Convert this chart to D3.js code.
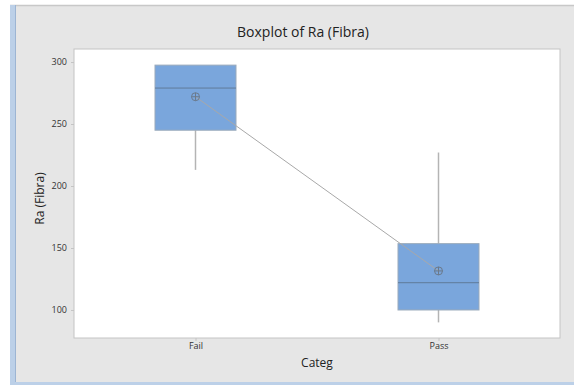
<!DOCTYPE html>
<html>
<head>
<meta charset="utf-8">
<script src="https://cdn.jsdelivr.net/npm/d3@7"></script>
<style>
  html, body { margin: 0; padding: 0; background: #ffffff; }
  svg { display: block; }
</style>
</head>
<body>
<svg id="chart" width="574" height="387"></svg>
<script>
// Box summaries of Ra (Fibra) by Categ
const categories = ["Fail", "Pass"];
const whiskerLow = [213, 90];
const q1 = [245, 100];
const median = [279, 122];
const q3 = [297.5, 153.5];
const whiskerHigh = [297.5, 227];
const means = [272, 131.5];
const yTicks = [100, 150, 200, 250, 300];

const W = 574, H = 387;
const plot = { left: 74, right: 560, top: 49, bottom: 338 };
const svg = d3.select("#chart");

// window frame
svg.append("rect").attr("x", 0).attr("y", 0).attr("width", W).attr("height", H).attr("fill", "#ffffff");
svg.append("rect").attr("x", 10).attr("y", 5).attr("width", W - 10).attr("height", 379).attr("fill", "#e6e6e6");
svg.append("line").attr("x1", 10).attr("x2", W).attr("y1", 5.5).attr("y2", 5.5).attr("stroke", "#c8c8c8").attr("stroke-width", 1.5);
svg.append("rect").attr("x", 10).attr("y", 5).attr("width", 6).attr("height", 379).attr("fill", "#bcd0e8");
svg.append("line").attr("x1", 15.5).attr("x2", 15.5).attr("y1", 5).attr("y2", 384).attr("stroke", "#9db5d3").attr("stroke-width", 1);
svg.append("rect").attr("x", 10).attr("y", 382).attr("width", W - 10).attr("height", 3).attr("fill", "#bcd0e8");

const x = d3.scalePoint().domain(categories).range([plot.left, plot.right]).padding(0.5);
const y = d3.scaleLinear().domain([77.4, 310.5]).range([plot.bottom, plot.top]);
const boxW = 81;

// plot area
svg.append("rect")
  .attr("x", plot.left).attr("y", plot.top)
  .attr("width", plot.right - plot.left).attr("height", plot.bottom - plot.top)
  .attr("fill", "#ffffff").attr("stroke", "#c4c4c4").attr("stroke-width", 1);

// axes
const yAxis = d3.axisLeft(y).tickValues(yTicks).tickSize(3).tickPadding(4);
const gy = svg.append("g").attr("transform", `translate(${plot.left},0)`).call(yAxis);
gy.select(".domain").remove();
gy.selectAll(".tick line").attr("stroke", "#c4c4c4");
gy.selectAll(".tick text").attr("fill", "#333").style("font-family", "Open Sans, sans-serif").style("font-size", "9px");

const xAxis = d3.axisBottom(x).tickSize(3).tickPadding(2);
const gx = svg.append("g").attr("transform", `translate(0,${plot.bottom})`).call(xAxis);
gx.select(".domain").remove();
gx.selectAll(".tick line").attr("stroke", "#c4c4c4");
gx.selectAll(".tick text").attr("fill", "#333").style("font-family", "Open Sans, sans-serif").style("font-size", "9px");

// titles
svg.append("text").attr("x", 303).attr("y", 37).attr("text-anchor", "middle")
  .style("font-family", "Open Sans, sans-serif").style("font-size", "14px").attr("fill", "#222")
  .text("Boxplot of Ra (Fibra)");
svg.append("text").attr("x", 317).attr("y", 367).attr("text-anchor", "middle")
  .style("font-family", "Open Sans, sans-serif").style("font-size", "12px").attr("fill", "#222")
  .text("Categ");
svg.append("text").attr("transform", `translate(44,${(plot.top + plot.bottom) / 2 + 5}) rotate(-90)`)
  .attr("text-anchor", "middle")
  .style("font-family", "Open Sans, sans-serif").style("font-size", "12px").attr("fill", "#222")
  .text("Ra (Fibra)");

const data = categories.map((c, i) => ({
  c, lo: whiskerLow[i], q1: q1[i], med: median[i], q3: q3[i], hi: whiskerHigh[i], mean: means[i]
}));

const g = svg.append("g");
// whiskers
g.selectAll(".whiskerLo").data(data).join("line")
  .attr("x1", d => x(d.c)).attr("x2", d => x(d.c))
  .attr("y1", d => y(d.lo)).attr("y2", d => y(d.q1))
  .attr("stroke", "#b4b4b4").attr("stroke-width", 1.5);
g.selectAll(".whiskerHi").data(data).join("line")
  .attr("x1", d => x(d.c)).attr("x2", d => x(d.c))
  .attr("y1", d => y(d.hi)).attr("y2", d => y(d.q3))
  .attr("stroke", "#b4b4b4").attr("stroke-width", 1.5);

// boxes
g.selectAll(".box").data(data).join("rect")
  .attr("x", d => x(d.c) - boxW / 2).attr("width", boxW)
  .attr("y", d => y(d.q3)).attr("height", d => y(d.q1) - y(d.q3))
  .attr("fill", "#7aa6dc").attr("stroke", "#9aaabb").attr("stroke-width", 1);

// medians
g.selectAll(".median").data(data).join("line")
  .attr("x1", d => x(d.c) - boxW / 2).attr("x2", d => x(d.c) + boxW / 2)
  .attr("y1", d => y(d.med)).attr("y2", d => y(d.med))
  .attr("stroke", "#5f7a99").attr("stroke-width", 1);

// mean connect line
g.append("path")
  .datum(data)
  .attr("d", d3.line().x(d => x(d.c)).y(d => y(d.mean)))
  .attr("fill", "none").attr("stroke", "#a8a8a8").attr("stroke-width", 1);

// mean symbols
const ms = g.selectAll(".mean").data(data).join("g")
  .attr("transform", d => `translate(${x(d.c)},${y(d.mean)})`);
ms.append("circle").attr("r", 4).attr("fill", "none").attr("stroke", "#6b7a8c").attr("stroke-width", 1);
ms.append("line").attr("x1", -4).attr("x2", 4).attr("y1", 0).attr("y2", 0).attr("stroke", "#6b7a8c").attr("stroke-width", 1);
ms.append("line").attr("x1", 0).attr("x2", 0).attr("y1", -4).attr("y2", 4).attr("stroke", "#6b7a8c").attr("stroke-width", 1);
</script>
</body>
</html>
